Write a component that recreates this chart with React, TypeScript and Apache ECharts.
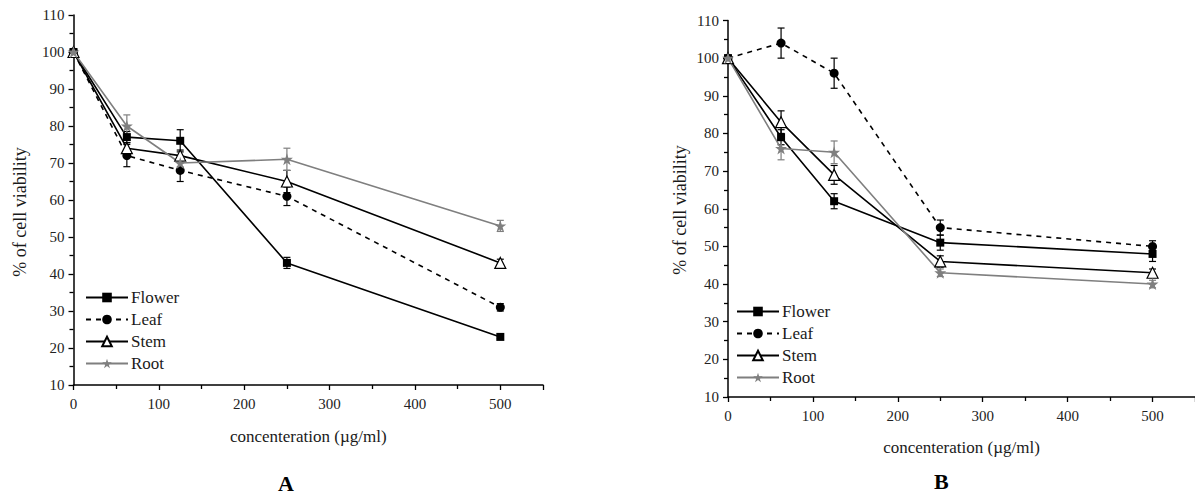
import React, { useEffect, useRef } from "react";
import * as echarts from "echarts";

// Concentrations tested (µg/ml)
const concentrations = [0, 62.5, 125, 250, 500];

// Panel A: % cell viability and standard error
const flowerA = [100, 77, 76, 43, 23];
const flowerAErr = [0, 1.5, 3, 1.5, 0.5];
const leafA = [100, 72, 68, 61, 31];
const leafAErr = [0, 3, 3, 2.5, 1];
const stemA = [100, 74, 72, 65, 43];
const stemAErr = [0, 1.5, 1.5, 3, 1];
const rootA = [100, 80, 70, 71, 53];
const rootAErr = [0, 3, 1, 3, 1.5];

// Panel B: % cell viability and standard error
const flowerB = [100, 79, 62, 51, 48];
const flowerBErr = [0, 2, 2, 2, 2];
const leafB = [100, 104, 96, 55, 50];
const leafBErr = [0, 4, 4, 2, 1.5];
const stemB = [100, 83, 69, 46, 43];
const stemBErr = [0, 3, 2.5, 1.5, 1];
const rootB = [100, 76, 75, 43, 40];
const rootBErr = [0, 3, 3, 1, 1];

const seriesNames = ["Flower", "Leaf", "Stem", "Root"];
const yTickMin = 10;
const yTickMax = 110;
const xTickMax = 550;

const FONT = "Liberation Serif, serif";
const BLACK = "#000000";
const GREY = "#7f7f7f";
const TEXT = "#1a1a1a";
const STAR =
  "path://M50,0 L61.2,34.5 L97.6,34.5 L68.2,55.9 L79.4,90.5 L50,69.1 L20.6,90.5 L31.8,55.9 L2.4,34.5 L38.8,34.5 Z";

type Style = {
  color: string;
  dashed: boolean;
  symbol: string;
  size: number;
  fill: string;
};

const styles: Style[] = [
  { color: BLACK, dashed: false, symbol: "rect", size: 8, fill: BLACK },
  { color: BLACK, dashed: true, symbol: "circle", size: 9, fill: BLACK },
  { color: BLACK, dashed: false, symbol: "triangle", size: 11, fill: "#ffffff" },
  { color: GREY, dashed: false, symbol: STAR, size: 12, fill: GREY },
];

function lineSeries(name: string, values: number[], idx: number, st: Style) {
  return {
    name,
    type: "line",
    xAxisIndex: idx,
    yAxisIndex: idx,
    data: concentrations.map((c, i) => [c, values[i]]),
    symbol: st.symbol,
    symbolSize: st.size,
    showAllSymbol: true,
    lineStyle: { color: st.color, width: 1.6, type: st.dashed ? [5, 5] : "solid" },
    itemStyle: { color: st.fill, borderColor: st.color, borderWidth: st.fill === "#ffffff" ? 1.2 : 0 },
    z: 3,
  };
}

function errorSeries(values: number[], errs: number[], idx: number, color: string) {
  return {
    type: "custom",
    xAxisIndex: idx,
    yAxisIndex: idx,
    data: concentrations.map((c, i) => [c, values[i], errs[i]]),
    z: 2,
    silent: true,
    renderItem: (_params: any, api: any) => {
      const x = api.value(0);
      const y = api.value(1);
      const e = api.value(2);
      if (!e) return null;
      const top = api.coord([x, y + e]);
      const bot = api.coord([x, y - e]);
      const w = 3.5;
      const style = { stroke: color, lineWidth: 1.2 };
      return {
        type: "group",
        children: [
          { type: "line", shape: { x1: top[0], y1: top[1], x2: bot[0], y2: bot[1] }, style },
          { type: "line", shape: { x1: top[0] - w, y1: top[1], x2: top[0] + w, y2: top[1] }, style },
          { type: "line", shape: { x1: bot[0] - w, y1: bot[1], x2: bot[0] + w, y2: bot[1] }, style },
        ],
      };
    },
  };
}

function xAxis(idx: number, gap: number) {
  return {
    type: "value",
    gridIndex: idx,
    min: 0,
    max: xTickMax,
    interval: 100,
    name: "concenteration (µg/ml)",
    nameLocation: "middle",
    nameGap: gap,
    nameTextStyle: { fontFamily: FONT, fontSize: 17, color: TEXT },
    axisLine: { show: true, onZero: false, lineStyle: { color: BLACK, width: 1.5 } },
    axisTick: { show: true, length: 5, lineStyle: { color: BLACK, width: 1.3 } },
    minorTick: { show: true, splitNumber: 2, length: 4, lineStyle: { color: BLACK, width: 1.3 } },
    splitLine: { show: false },
    axisLabel: {
      fontFamily: FONT,
      fontSize: 15,
      color: "#222",
      margin: 11,
      showMaxLabel: false,
      formatter: (v: number) => (v > 500 ? "" : String(v)),
    },
  };
}

function yAxis(idx: number) {
  return {
    type: "value",
    gridIndex: idx,
    min: yTickMin,
    max: yTickMax,
    interval: 10,
    axisLine: { show: true, onZero: false, lineStyle: { color: BLACK, width: 1.5 } },
    axisTick: { show: true, length: 5, lineStyle: { color: BLACK, width: 1.3 } },
    minorTick: { show: true, splitNumber: 2, length: 4, lineStyle: { color: BLACK, width: 1.3 } },
    splitLine: { show: false },
    axisLabel: { fontFamily: FONT, fontSize: 15, color: "#222", margin: 9 },
  };
}

function legend(left: number, top: number) {
  return {
    orient: "vertical",
    left,
    top,
    padding: 0,
    itemWidth: 42,
    itemHeight: 12,
    itemGap: 5,
    data: seriesNames,
    textStyle: { fontFamily: FONT, fontSize: 17, color: TEXT, padding: [0, 0, 0, -2] },
    selectedMode: false,
  };
}

function yName(x: number, y: number) {
  return {
    type: "text",
    x,
    y,
    rotation: Math.PI / 2,
    style: {
      text: "% of cell viability",
      fontFamily: FONT,
      fontSize: 18,
      fill: TEXT,
      align: "center",
      verticalAlign: "middle",
    },
  };
}

export default function App() {
  const ref = useRef<HTMLDivElement>(null);

  useEffect(() => {
    if (!ref.current) return;
    const chart = echarts.init(ref.current, undefined, { renderer: "svg" });

    const dataA = [flowerA, leafA, stemA, rootA];
    const errA = [flowerAErr, leafAErr, stemAErr, rootAErr];
    const dataB = [flowerB, leafB, stemB, rootB];
    const errB = [flowerBErr, leafBErr, stemBErr, rootBErr];

    const series: any[] = [];
    [dataA, dataB].forEach((panel, p) => {
      const errs = p === 0 ? errA : errB;
      panel.forEach((vals, i) => {
        series.push(errorSeries(vals, errs[i], p, styles[i].color));
      });
      panel.forEach((vals, i) => {
        series.push(lineSeries(seriesNames[i], vals, p, styles[i]));
      });
    });

    chart.setOption({
      animation: false,
      backgroundColor: "#ffffff",
      textStyle: { fontFamily: FONT },
      grid: [
        { left: 73.5, top: 15, width: 469.5, height: 370 },
        { left: 728, top: 20.5, width: 468, height: 376.5 },
      ],
      xAxis: [xAxis(0, 43), xAxis(1, 42)],
      yAxis: [yAxis(0), yAxis(1)],
      legend: [legend(85, 289), legend(736, 303)],
      graphic: [
        yName(20, 212),
        yName(680, 210),
        {
          type: "text",
          left: 278,
          top: 472,
          style: { text: "A", fontFamily: FONT, fontSize: 22, fontWeight: "bold", fill: BLACK },
        },
        {
          type: "text",
          left: 934,
          top: 470,
          style: { text: "B", fontFamily: FONT, fontSize: 22, fontWeight: "bold", fill: BLACK },
        },
      ],
      series,
    });

    return () => chart.dispose();
  }, []);

  return (
    <div
      ref={ref}
      style={{ position: "absolute", left: 0, top: 0, width: 1195, height: 500 }}
    />
  );
}
